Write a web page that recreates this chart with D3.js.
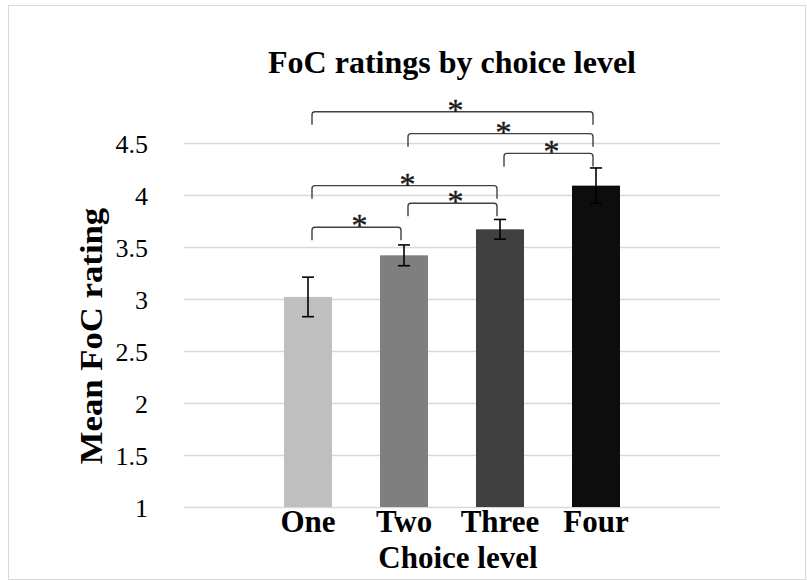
<!DOCTYPE html>
<html>
<head>
<meta charset="utf-8">
<script src="https://cdn.jsdelivr.net/npm/d3@7"></script>
<style>
  html, body { margin: 0; padding: 0; background: #fff; }
  svg { display: block; }
  text { font-family: "Liberation Serif", "Times New Roman", serif; }
</style>
</head>
<body>
<svg id="chart" width="807" height="581"></svg>
<script>
// Mean FoC rating per choice level, with error bar half-widths
const categories = ["One", "Two", "Three", "Four"];
const means = [3.02, 3.42, 3.67, 4.09];
const errors = [0.19, 0.10, 0.095, 0.17];
const barColors = ["#BFBFBF", "#7F7F7F", "#404040", "#0D0D0D"];
const yTicks = [1, 1.5, 2, 2.5, 3, 3.5, 4, 4.5];

// Significance brackets: compared pair and the bracket's top level (rating units)
const pairFrom = [0, 1, 2, 0, 1, 0];
const pairTo = [3, 3, 3, 2, 2, 1];
const bracketLevel = [4.80, 4.59, 4.40, 4.09, 3.92, 3.69];
const bracketMark = ["*", "*", "*", "*", "*", "*"];

const serif = "'Liberation Serif', 'Times New Roman', serif";
const svg = d3.select("#chart");
const W = 807, H = 581;

// outer frame
svg.append("rect")
  .attr("x", 8.5).attr("y", 5.5)
  .attr("width", W - 10).attr("height", H - 7)
  .attr("fill", "#fff").attr("stroke", "#D9D9D9").attr("stroke-width", 1);

const plot = { left: 184, right: 720, top: 143, bottom: 507 };

const y = d3.scaleLinear().domain([1, 4.5]).range([plot.bottom, plot.top]);
const x = d3.scaleBand().domain(categories).range([260, 644])
  .paddingInner(0.5).paddingOuter(0.25);

// gridlines + tick labels
const yAxis = svg.append("g")
  .attr("transform", `translate(${plot.left},0)`)
  .call(d3.axisLeft(y).tickValues(yTicks).tickFormat(d3.format("~g"))
    .tickSize(-(plot.right - plot.left)).tickPadding(36))
  .attr("font-family", serif).attr("font-size", 26);
yAxis.select(".domain").remove();
yAxis.selectAll(".tick line").attr("stroke", "#D9D9D9").attr("stroke-width", 1.3);
yAxis.selectAll(".tick text")
  .attr("fill", "#000").attr("dy", "0.36em");

// bars
svg.append("g").selectAll("rect")
  .data(categories)
  .join("rect")
  .attr("x", d => x(d))
  .attr("width", x.bandwidth())
  .attr("y", (d, i) => y(means[i]))
  .attr("height", (d, i) => y(1) - y(means[i]))
  .attr("fill", (d, i) => barColors[i]);

// error bars
const capHalf = 6;
const eb = svg.append("g").attr("stroke", "#000").attr("stroke-width", 1.6).attr("fill", "none");
categories.forEach((c, i) => {
  const cx = x(c) + x.bandwidth() / 2;
  const hi = y(means[i] + errors[i]), lo = y(means[i] - errors[i]);
  eb.append("line").attr("x1", cx).attr("x2", cx).attr("y1", hi).attr("y2", lo);
  eb.append("line").attr("x1", cx - capHalf).attr("x2", cx + capHalf).attr("y1", hi).attr("y2", hi);
  eb.append("line").attr("x1", cx - capHalf).attr("x2", cx + capHalf).attr("y1", lo).attr("y2", lo);
});

// x axis category labels
const xAxis = svg.append("g")
  .attr("transform", `translate(0,${plot.bottom})`)
  .call(d3.axisBottom(x).tickSize(0).tickPadding(3))
  .attr("font-family", serif).attr("font-size", 31).attr("font-weight", "bold");
xAxis.select(".domain").remove();
xAxis.selectAll(".tick text").attr("fill", "#000");

// significance brackets
const legLen = 13, r = 3;
const bg = svg.append("g");
pairFrom.forEach((a, k) => {
  const b = pairTo[k];
  const x1 = x(categories[a]) + x.bandwidth() / 2 + 4;
  const x2 = x(categories[b]) + x.bandwidth() / 2 - 3;
  const yt = y(bracketLevel[k]);
  const path = d3.path();
  path.moveTo(x1, yt + legLen);
  path.lineTo(x1, yt + r);
  path.quadraticCurveTo(x1, yt, x1 + r, yt);
  path.lineTo(x2 - r, yt);
  path.quadraticCurveTo(x2, yt, x2, yt + r);
  path.lineTo(x2, yt + legLen);
  bg.append("path").attr("d", path.toString())
    .attr("fill", "none").attr("stroke", "#404040").attr("stroke-width", 1.4);
  bg.append("text")
    .attr("x", (x1 + x2) / 2 + 3)
    .attr("y", yt + 9)
    .attr("text-anchor", "middle")
    .attr("font-family", serif)
    .attr("font-size", 32)
    .attr("fill", "#1a1a1a")
    .attr("stroke", "#1a1a1a").attr("stroke-width", 0.4)
    .text(bracketMark[k]);
});

// titles
svg.append("text")
  .attr("x", 452).attr("y", 73)
  .attr("text-anchor", "middle")
  .attr("font-family", serif)
  .attr("font-size", 32).attr("font-weight", "bold")
  .text("FoC ratings by choice level");

svg.append("text")
  .attr("x", 458).attr("y", 568)
  .attr("text-anchor", "middle")
  .attr("font-family", serif)
  .attr("font-size", 31).attr("font-weight", "bold")
  .text("Choice level");

// y-axis title, set a little wider along its run
svg.append("text")
  .attr("transform", "translate(102,336) rotate(-90) scale(1.12,1)")
  .attr("text-anchor", "middle")
  .attr("font-family", serif)
  .attr("font-size", 31).attr("font-weight", "bold")
  .text("Mean FoC rating");
</script>
</body>
</html>
